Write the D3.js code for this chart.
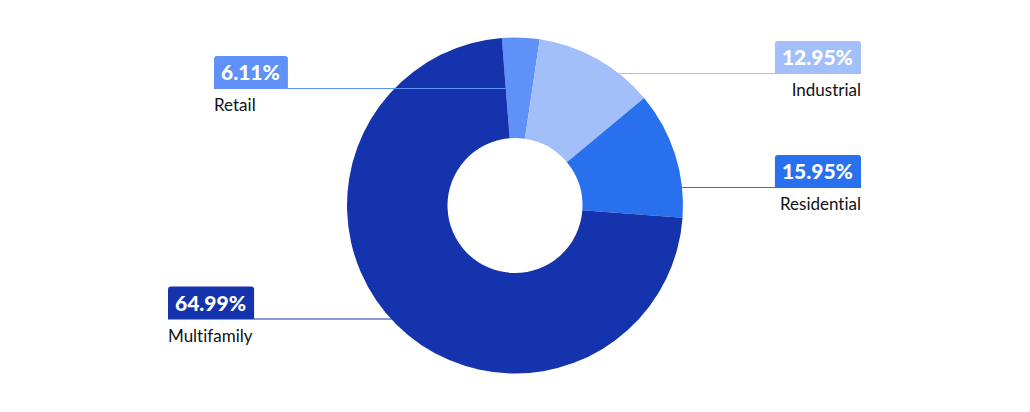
<!DOCTYPE html>
<html><head><meta charset="utf-8">
<script src="https://cdn.jsdelivr.net/npm/d3@7"></script>
<style>
html,body{margin:0;padding:0;background:#fff;}
svg{display:block;}
text{font-variant-ligatures:none;font-feature-settings:"liga" 0;}
</style></head>
<body>
<svg id="chart" width="1030" height="412"></svg>
<script>
// ---- data ----
const categories = ["Retail", "Industrial", "Residential", "Multifamily"];
// slice shares as drawn in the picture (percent of the ring)
const sliceShares = [3.6, 11.6, 12.2, 72.6];
// values printed in the labels
const labelValues = [6.11, 12.95, 15.95, 64.99];
const colors = ["#5F91F8", "#A3BFFA", "#2970EE", "#1433AD"];

// ---- layout ----
const W = 1030, H = 412;
const cx = 515, cy = 205.5, R = 168, r = 67.5;
const startDeg = -4.5;
const labelSide = ["left", "right", "right", "left"];
const labelBoxX = [214, 861, 861, 168];     // left edge (left side) / right edge (right side)
const labelLineY = [89, 74, 188, 319.5];     // bottom of box = leader line

const svg = d3.select("#chart");
const g = svg.append("g").attr("transform", `translate(${cx},${cy})`);

const pie = d3.pie().sort(null).value(d => d.v)
  .startAngle(startDeg * Math.PI / 180)
  .endAngle((startDeg + 360) * Math.PI / 180);
const data = categories.map((c, i) => ({c, v: sliceShares[i], lab: labelValues[i], col: colors[i], i}));
const arcs = pie(data);
const arc = d3.arc().innerRadius(r).outerRadius(R);

g.selectAll("path.slice").data(arcs).enter().append("path")
  .attr("class", "slice")
  .attr("d", arc)
  .attr("fill", d => d.data.col);

// leader line endpoint: where the horizontal line at y first meets the slice
function hitX(a, y, side) {
  const dy = y - cy; // positive down
  const s = side === "left" ? -1 : 1;
  const xOuter = s * Math.sqrt(Math.max(0, R * R - dy * dy));
  let ang = Math.atan2(xOuter, -dy);
  const norm = t => { while (t < a.startAngle) t += 2 * Math.PI; return t; };
  ang = norm(ang);
  if (ang <= a.endAngle) return cx + xOuter;
  const b = side === "left" ? a.startAngle : a.endAngle;
  return cx + (-dy) * Math.tan(b);
}

const fmt = d3.format(".2f");
const labels = svg.append("g");
arcs.forEach((a, i) => {
  const side = labelSide[i];
  const y = labelLineY[i];
  const col = a.data.col;
  const lg = labels.append("g");
  const t = lg.append("text")
    .attr("font-family", "Lato, 'Open Sans', sans-serif")
    .attr("font-weight", 900)
    .attr("font-size", 21)
    .attr("fill", "#fff")
    .attr("y", y - 9)
    .text(fmt(a.data.lab) + "%");
  const tw = t.node().getComputedTextLength();
  const padL = 7, padR = 8;
  const bw = tw + padL + padR, bh = 33;
  const bx = side === "left" ? labelBoxX[i] : labelBoxX[i] - bw;
  t.attr("x", bx + padL);
  const rr = 3;
  lg.insert("path", "text")
    .attr("d", `M${bx},${y} V${y - bh + rr} Q${bx},${y - bh} ${bx + rr},${y - bh} H${bx + bw - rr} Q${bx + bw},${y - bh} ${bx + bw},${y - bh + rr} V${y} Z`)
    .attr("fill", col);
  const xe = hitX(a, y, side);
  const x1 = side === "left" ? bx + bw : bx;
  lg.append("line")
    .attr("x1", x1).attr("x2", xe)
    .attr("y1", y - 0.5).attr("y2", y - 0.5)
    .attr("stroke", col).attr("stroke-width", 1.2);
  lg.append("text")
    .attr("font-family", "Lato, 'Open Sans', sans-serif")
    .attr("font-weight", 400)
    .attr("font-size", 17)
    .attr("fill", "#111116")
    .attr("text-anchor", side === "left" ? "start" : "end")
    .attr("x", side === "left" ? bx : bx + bw)
    .attr("y", y + 22)
    .text(a.data.c);
});
</script>
</body></html>
